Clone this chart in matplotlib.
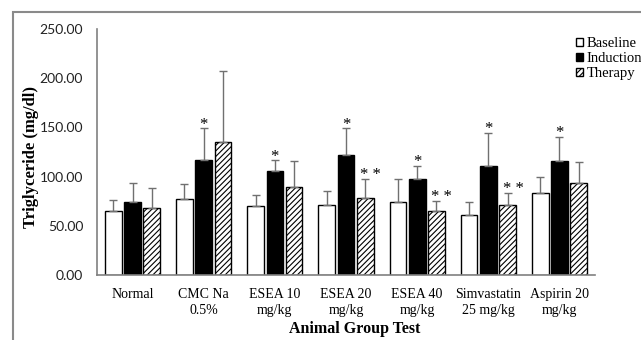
import matplotlib
matplotlib.use("Agg")
import matplotlib.pyplot as plt
import numpy as np
from matplotlib.patches import Rectangle

# groups and values (mg/dl)
groups = ["Normal", "CMC Na\n0.5%", "ESEA 10\nmg/kg", "ESEA 20\nmg/kg",
          "ESEA 40\nmg/kg", "Simvastatin\n25 mg/kg", "Aspirin 20\nmg/kg"]
baseline = [65.3, 77.2, 69.8, 70.8, 74.5, 60.7, 83.3]
baseline_sd = [10.6, 15.6, 11.8, 14.2, 22.7, 13.2, 16.0]
induction = [74.5, 116.5, 105.4, 122.0, 97.2, 110.5, 115.9]
induction_sd = [18.7, 32.5, 11.1, 27.0, 13.6, 33.5, 24.1]
therapy = [67.8, 134.8, 89.4, 78.3, 64.7, 71.1, 93.8]
therapy_sd = [20.9, 72.5, 26.5, 19.6, 10.2, 12.5, 20.7]

# significance marks
induction_marks = ["", "*", "*", "*", "*", "*", "*"]
therapy_marks = ["", "", "", "* *", "* *", "* *", ""]

serif = ["Liberation Serif", "DejaVu Serif"]
plt.rcParams["hatch.linewidth"] = 0.8

fig = plt.figure(figsize=(6.41, 3.40), dpi=100)
ax = fig.add_axes([0.1513, 0.191, 0.777, 0.724])

# chart area border (partly cropped in the original)
fig.patches.append(Rectangle((13 / 641, -0.2), 1.2, 1 - 12 / 340 + 0.2,
                             transform=fig.transFigure, fill=False,
                             edgecolor="#8a8a8a", linewidth=1.5))

x = np.arange(len(groups))
w = 0.235
gap = 0.035
err_kw = dict(ecolor="#707070", elinewidth=1, capsize=3, capthick=1)

zeros = np.zeros(len(groups))
b1 = ax.bar(x - w - gap, baseline, w, color="white", edgecolor="black",
            linewidth=1, yerr=[zeros, baseline_sd], error_kw=err_kw,
            label="Baseline")
b2 = ax.bar(x, induction, w, color="black", edgecolor="black",
            linewidth=1, yerr=[zeros, induction_sd], error_kw=err_kw,
            label="Induction")
b3 = ax.bar(x + w + gap, therapy, w, color="white", edgecolor="black",
            linewidth=1, hatch="//////", yerr=[zeros, therapy_sd],
            error_kw=err_kw, label="Therapy")

for i in range(len(groups)):
    if induction_marks[i]:
        ax.annotate(induction_marks[i], (x[i], induction[i] + induction_sd[i]),
                    xytext=(0, -3), textcoords="offset points",
                    ha="center", va="bottom", fontsize=12, family=serif)
    if therapy_marks[i]:
        ax.annotate(therapy_marks[i],
                    (x[i] + w + gap, therapy[i] + therapy_sd[i]),
                    xytext=(4, -3), textcoords="offset points",
                    ha="center", va="bottom", fontsize=12, family=serif)

ax.set_xlim(-0.5, len(groups) - 0.5)
ax.set_ylim(0, 250)
ax.set_yticks(np.arange(0, 251, 50))
ax.set_yticklabels(["%.2f" % v for v in np.arange(0, 251, 50)],
                   family="Lato", fontsize=10, color="#222222")
ax.set_xticks(x)
ax.set_xticklabels(groups, family=serif, fontsize=10, linespacing=1.3)
ax.tick_params(axis="x", length=0, pad=9)
ax.tick_params(axis="y", length=0, pad=10)

for s in ["top", "right"]:
    ax.spines[s].set_visible(False)
for s in ["left", "bottom"]:
    ax.spines[s].set_color("#808080")
    ax.spines[s].set_linewidth(1.2)

ax.set_ylabel("Triglyceride (mg/dl)", family=serif, fontsize=12,
              fontweight="bold")
ax.yaxis.set_label_coords(-0.116, 0.48)
fig.text(355 / 641, 1 - 329 / 340, "Animal Group Test", family=serif,
         fontsize=11.5, fontweight="bold", ha="center", va="center")

ax.legend(handles=[b1, b2, b3], loc="upper left",
          bbox_to_anchor=(576 / 641, 1 - 37 / 340),
          bbox_transform=fig.transFigure, frameon=False,
          prop={"family": serif, "size": 10.5}, handlelength=0.5,
          handleheight=0.5, handletextpad=0.25, labelspacing=0.15,
          borderaxespad=0, borderpad=0)

fig.savefig("out.png", dpi=100)
